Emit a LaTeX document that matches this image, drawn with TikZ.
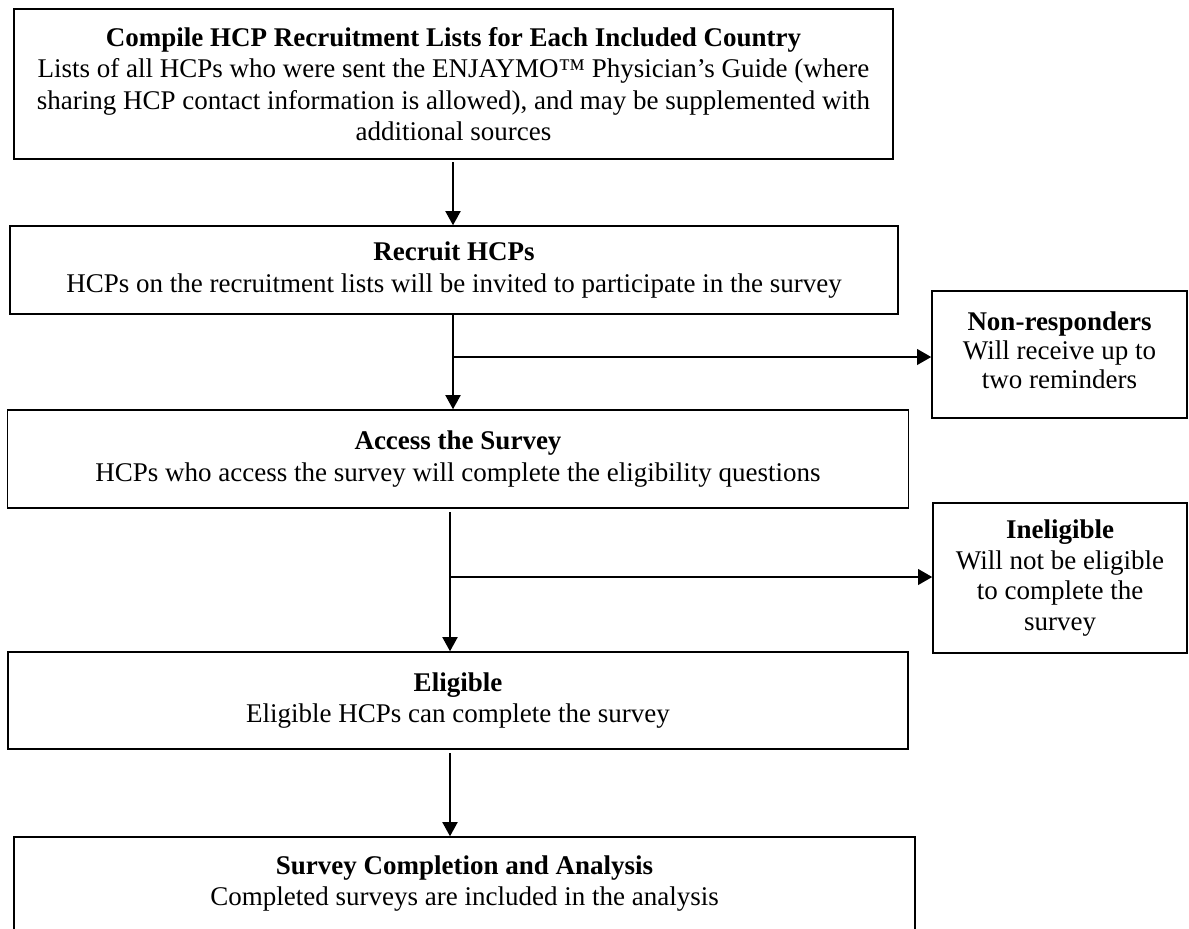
\documentclass[tikz,border=0pt]{standalone}
\usepackage{fontspec}
\setmainfont{Liberation Serif}
\usetikzlibrary{arrows.meta}
\tikzset{
  x=0.4444pt, y=-0.4444pt,
  box/.style={draw=black, line width=0.7pt, rectangle, inner sep=0pt, align=center,
    font=\fontsize{12}{13.9}\selectfont},
  vline/.style={line width=0.55pt, -{Triangle[width=6.8pt,length=6.3pt]}},
  hline/.style={line width=0.8pt, -{Triangle[width=7pt,length=6.3pt]}},
}
\begin{document}
\begin{tikzpicture}
\useasboundingbox (0,0) rectangle (1189,928);
\clip (0,0) rectangle (1189,928);
\fill[white] (0,0) rectangle (1189,928);

\node[box, minimum width=879*0.4444pt, minimum height=150*0.4444pt] (b1) at (453.5,84)
  {\textbf{Compile HCP Recruitment Lists for Each Included Country}\\
   Lists of all HCPs who were sent the ENJAYMO™ Physician’s Guide (where\\
   sharing HCP contact information is allowed), and may be supplemented with\\
   additional sources};

\node[box, minimum width=888*0.4444pt, minimum height=88*0.4444pt] (b2) at (454,270)
  {\textbf{Recruit HCPs}\\
   HCPs on the recruitment lists will be invited to participate in the survey};

\node[box, minimum width=255*0.4444pt, minimum height=127*0.4444pt, text depth=4pt,
      font=\fontsize{12}{13}\selectfont] (nr) at (1059.5,354.5)
  {\textbf{Non-responders}\\
   Will receive up to\\
   two reminders};

\node[box, minimum width=901*0.4444pt, minimum height=98*0.4444pt] (b3) at (458,459)
  {\textbf{Access the Survey}\\
   HCPs who access the survey will complete the eligibility questions};

\node[box, minimum width=254*0.4444pt, minimum height=150*0.4444pt,
      font=\fontsize{12}{13.5}\selectfont] (ie) at (1060,578)
  {\textbf{Ineligible}\\
   Will not be eligible\\
   to complete the\\
   survey};

\node[box, minimum width=900*0.4444pt, minimum height=97*0.4444pt] (el) at (458,700.5)
  {\textbf{Eligible}\\
   Eligible HCPs can complete the survey};

\node[box, minimum width=901*0.4444pt, minimum height=94*0.4444pt, text depth=3pt] (b5) at (464.5,884)
  {\textbf{Survey Completion and Analysis}\\
   Completed surveys are included in the analysis};

\coordinate (s1) at (453,162);
\coordinate (s2) at (453,314);
\coordinate (j1) at (453,357);
\coordinate (s3) at (450,512);
\coordinate (j2) at (450,577);
\coordinate (s4) at (450,753);

\draw[vline] (s1) -- (s1 |- b2.north);
\draw[vline] (s2) -- (s2 |- b3.north);
\draw[hline] (j1) -- (j1 -| nr.west);
\draw[vline] (s3) -- (s3 |- el.north);
\draw[hline] (j2) -- (j2 -| ie.west);
\draw[vline] (s4) -- (s4 |- b5.north);
\end{tikzpicture}
\end{document}
